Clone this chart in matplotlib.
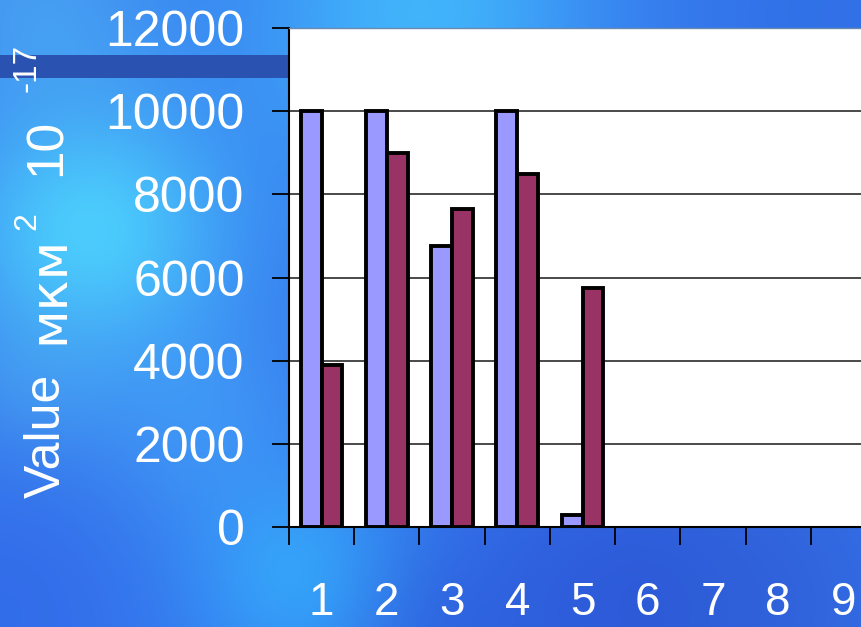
import numpy as np
import matplotlib.pyplot as plt
from matplotlib.patches import Rectangle
from matplotlib.colors import to_rgb

plt.rcParams['font.family'] = ['Liberation Sans', 'DejaVu Sans']

categories = [1, 2, 3, 4, 5, 6, 7, 8, 9]
series_a = [10000, 10000, 6750, 10000, 300]
series_b = [3900, 9000, 7650, 8500, 5750]
yticks = [0, 2000, 4000, 6000, 8000, 10000, 12000]

W, H = 861, 627


def px(x, y):
    # pixel position (from top-left) -> figure fraction
    return x / W, 1 - y / H


fig = plt.figure(figsize=(W / 100, H / 100), dpi=100)

# soft blue backdrop
yy, xx = np.mgrid[0:H, 0:W]
img = np.ones((H, W, 3)) * np.array(to_rgb('#3575ee'))


def blend(img, cx, cy, r, strength, color):
    a = strength * np.exp(-((xx - cx) ** 2 + (yy - cy) ** 2) / (2.0 * r * r))
    c = np.array(to_rgb(color))
    return img * (1 - a[..., None]) + c * a[..., None]


spots = [
    (90, 230, 100, 0.85, '#4fdcff'),
    (420, 10, 130, 0.75, '#45c8ff'),
    (40, 10, 90, 0.5, '#55c0f5'),
    (300, 575, 80, 0.7, '#35b8ff'),
    (200, 420, 80, 0.35, '#4fc0ff'),
    (30, 380, 60, 0.3, '#55b8f0'),
    (620, 610, 130, 0.55, '#2848cc'),
    (780, 600, 110, 0.35, '#2d55c8'),
    (0, 610, 90, 0.35, '#2f5ee0'),
    (860, 20, 120, 0.35, '#2a68d8'),
    (440, 630, 60, 0.3, '#2850d0'),
]
for cx, cy, r, s, col in spots:
    img = blend(img, cx, cy, r, s, col)

bg = fig.add_axes([0, 0, 1, 1], zorder=-10)
bg.imshow(img, aspect='auto', extent=[0, W, H, 0], interpolation='bilinear')
bg.axis('off')

# dark stripe on the left
x0, y0 = px(0, 78)
fig.patches.append(Rectangle((x0, y0), 288 / W, 23 / H, transform=fig.transFigure,
                             facecolor='#2a52b0', edgecolor='none', zorder=-5))

left, bottom = px(289, 527)
ax = fig.add_axes([left, bottom, 587 / W, 499 / H])
ax.set_facecolor('white')

x = np.arange(1, len(series_a) + 1)
w = 0.32
ax.bar(x - w / 2, series_a, w, color='#9999ff', edgecolor='black', linewidth=2.8, zorder=3)
ax.bar(x + w / 2, series_b, w, color='#993366', edgecolor='black', linewidth=2.8, zorder=3)

ax.set_xlim(0.5, 9.5)
ax.set_ylim(0, 12000)

ax.set_yticks(yticks)
ax.yaxis.grid(True, color='#2a2a2a', linewidth=1.2, zorder=1)
ax.set_axisbelow(True)
ax.tick_params(axis='y', direction='out', length=12, width=1.3, color='black',
               pad=20, labelsize=36, labelcolor='white')

# tick marks between categories, labels at the centres
ax.set_xticks(np.arange(0.5, 10.5, 1.0))
ax.set_xticklabels([])
ax.set_xticks(categories, minor=True)
ax.set_xticklabels([str(c) for c in categories], minor=True)
ax.tick_params(axis='x', which='major', direction='out', length=13, width=1.3, color='black')
ax.tick_params(axis='x', which='minor', length=0, pad=39, labelsize=33, labelcolor='white')

for side in ['left', 'bottom']:
    ax.spines[side].set_color('black')
    ax.spines[side].set_linewidth(1.5)
ax.spines['top'].set_color('#6a8ab0')
ax.spines['top'].set_linewidth(1)
ax.spines['right'].set_visible(False)

# axis title pieces
fig.text(*px(47, 436), 'Value', rotation=90, ha='center', va='center',
         color='white', fontsize=36)
fig.text(*px(49, 290), 'мкм', rotation=90, ha='center', va='center',
         color='white', fontsize=37, family='DejaVu Sans')
fig.text(*px(27, 221), '2', rotation=90, ha='center', va='center',
         color='white', fontsize=23)
fig.text(*px(47, 147), '10', rotation=90, ha='center', va='center',
         color='white', fontsize=37)
fig.text(*px(27, 68), '-17', rotation=90, ha='center', va='center',
         color='white', fontsize=24)

fig.savefig('out.png', dpi=100)
